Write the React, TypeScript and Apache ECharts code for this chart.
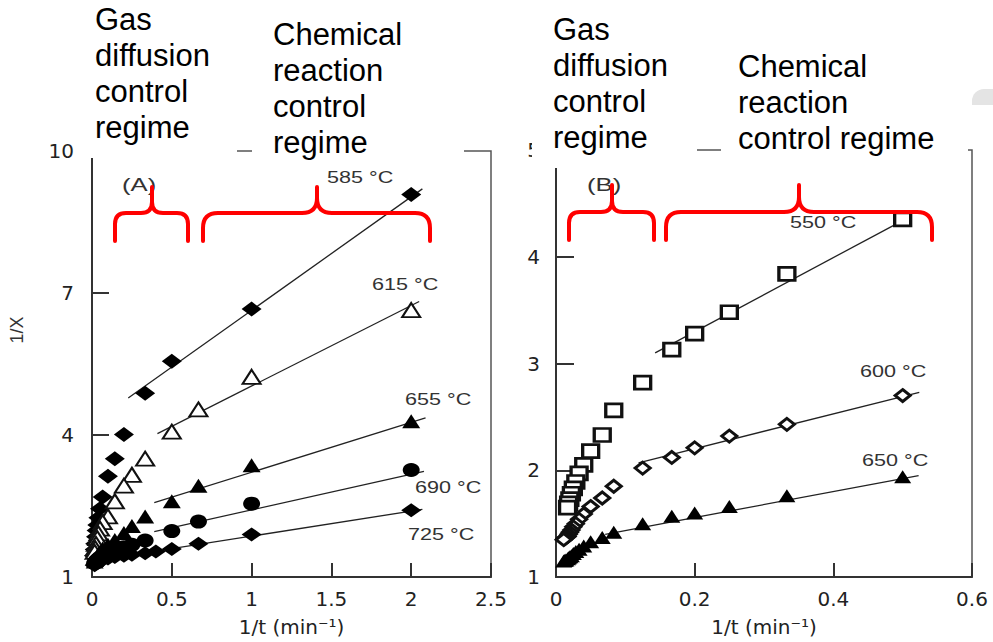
import React, { useEffect, useRef } from 'react';
import * as echarts from 'echarts';

// ---------- Panel A data (1/t in min^-1, 1/X) ----------
const xA585 = [2, 1, 0.5, 0.333, 0.2, 0.143, 0.1, 0.0667, 0.05, 0.04, 0.0333, 0.0286, 0.025, 0.02, 0.0167, 0.0125];
const yA585 = [9.08, 6.66, 5.56, 4.88, 4.01, 3.5, 3.13, 2.69, 2.44, 2.25, 2.1, 1.98, 1.85, 1.7, 1.58, 1.45];
const xA615 = [2, 1, 0.667, 0.5, 0.333, 0.25, 0.2, 0.143, 0.1, 0.0667, 0.05, 0.04, 0.0333, 0.025, 0.02, 0.0167];
const yA615 = [6.64, 5.23, 4.54, 4.07, 3.5, 3.16, 2.93, 2.6, 2.28, 2.16, 2.02, 1.92, 1.82, 1.7, 1.61, 1.53];
const xA655 = [2, 1, 0.667, 0.5, 0.333, 0.25, 0.2, 0.143, 0.1, 0.0667, 0.05, 0.04, 0.0333, 0.025, 0.02, 0.0167];
const yA655 = [4.29, 3.36, 2.93, 2.6, 2.28, 2.08, 1.93, 1.78, 1.68, 1.6, 1.53, 1.48, 1.44, 1.39, 1.36, 1.33];
const xA690 = [2, 1, 0.667, 0.5, 0.333, 0.25, 0.2, 0.143, 0.1, 0.0667, 0.05, 0.04, 0.0333, 0.025, 0.02, 0.0167];
const yA690 = [3.26, 2.55, 2.17, 1.97, 1.77, 1.68, 1.63, 1.56, 1.5, 1.45, 1.41, 1.38, 1.36, 1.33, 1.31, 1.29];
const xA725 = [2, 1, 0.667, 0.5, 0.4, 0.333, 0.25, 0.2, 0.143, 0.1, 0.0667, 0.05, 0.0333, 0.025, 0.02, 0.0167];
const yA725 = [2.41, 1.9, 1.7, 1.59, 1.54, 1.5, 1.47, 1.45, 1.42, 1.39, 1.36, 1.34, 1.31, 1.29, 1.27, 1.25];

// fitted lines, panel A: [x0, y0, x1, y1]
const fitA585 = [0.227, 4.78, 2.07, 9.2];
const fitA615 = [0.41, 4.03, 2.05, 6.82];
const fitA655 = [0.39, 2.57, 2.09, 4.36];
const fitA690 = [0.39, 1.96, 2.08, 3.23];
const fitA725 = [0.39, 1.54, 2.07, 2.43];

// ---------- Panel B data ----------
const xB550 = [0.5, 0.333, 0.25, 0.2, 0.167, 0.125, 0.0833, 0.0667, 0.05, 0.04, 0.0333, 0.0286, 0.025, 0.0222, 0.02, 0.0182, 0.0167];
const yB550 = [4.35, 3.84, 3.48, 3.28, 3.13, 2.82, 2.56, 2.33, 2.18, 2.05, 1.97, 1.89, 1.83, 1.78, 1.73, 1.69, 1.65];
const xB600 = [0.5, 0.333, 0.25, 0.2, 0.167, 0.125, 0.0833, 0.0667, 0.05, 0.04, 0.0333, 0.0286, 0.025, 0.0222, 0.02, 0.0182, 0.0167, 0.0143, 0.0125, 0.0111];
const yB600 = [2.7, 2.43, 2.32, 2.21, 2.12, 2.02, 1.85, 1.74, 1.66, 1.59, 1.54, 1.5, 1.47, 1.44, 1.42, 1.4, 1.38, 1.37, 1.36, 1.35];
const xB650 = [0.5, 0.333, 0.25, 0.2, 0.167, 0.125, 0.0833, 0.0667, 0.05, 0.04, 0.0333, 0.0286, 0.025, 0.0222, 0.02, 0.0182, 0.0167, 0.0143, 0.0125, 0.0111];
const yB650 = [1.94, 1.76, 1.66, 1.6, 1.57, 1.5, 1.42, 1.37, 1.33, 1.29, 1.26, 1.24, 1.22, 1.2, 1.19, 1.18, 1.17, 1.16, 1.155, 1.15];

const fitB550 = [0.143, 3.1, 0.506, 4.36];
const fitB600 = [0.119, 2.07, 0.524, 2.73];
const fitB650 = [0.071, 1.4, 0.523, 1.95];

// tick settings
const xTicksA = { min: 0, max: 2.5, interval: 0.5 };
const yTicksA = { min: 1, max: 10, interval: 3 };
const xTicksB = { min: 0, max: 0.6, interval: 0.2 };
const yTicksB = { min: 1, max: 5, interval: 1 };

const xName = '1/t (min⁻¹)';
const yNameA = '1/X';

// ---------- brace shapes ----------
function bracePath(x0: number, x1: number, xc: number, yb: number, yh: number, yp: number, r: number) {
  return (
    `M${x0},${yb} L${x0},${yh + r} Q${x0},${yh} ${x0 + r},${yh} L${xc - r},${yh} Q${xc},${yh} ${xc},${yh - r} L${xc},${yp} ` +
    `M${xc},${yp} L${xc},${yh - r} Q${xc},${yh} ${xc + r},${yh} L${x1 - r},${yh} Q${x1},${yh} ${x1},${yh + r} L${x1},${yb}`
  );
}
echarts.graphic.registerShape('braceA1', echarts.graphic.extendPath(bracePath(115, 188, 152, 241, 213, 187, 11), {}));
echarts.graphic.registerShape('braceA2', echarts.graphic.extendPath(bracePath(203, 430, 317, 241, 213, 187, 15), {}));
echarts.graphic.registerShape('braceB1', echarts.graphic.extendPath(bracePath(569, 654, 612, 240, 212, 185, 11), {}));
echarts.graphic.registerShape('braceB2', echarts.graphic.extendPath(bracePath(666, 932, 799, 240, 212, 185, 15), {}));

const zip = (xs: number[], ys: number[]) => xs.map((x, i) => [x, ys[i]]);
const fit = (f: number[]) => [[f[0], f[1]], [f[2], f[3]]];

const AX = '#333';
const LBL = '#222';
const TICK_FONT = 'DejaVu Sans';

function makeX(grid: number, t: { min: number; max: number; interval: number }, tickLen: number) {
  return {
    gridIndex: grid,
    type: 'value',
    ...t,
    axisLine: { show: true, lineStyle: { color: AX, width: 2 } },
    axisTick: { show: true, inside: true, length: tickLen, lineStyle: { color: AX, width: 2 } },
    splitLine: { show: false },
    axisLabel: { fontFamily: TICK_FONT, fontSize: 20, color: LBL, margin: 12 },
    name: xName,
    nameLocation: 'middle',
    nameGap: 40,
    nameTextStyle: { fontFamily: TICK_FONT, fontSize: 20, color: LBL },
  };
}
function makeY(grid: number, t: { min: number; max: number; interval: number }, tickLen: number, margin: number) {
  return {
    gridIndex: grid,
    type: 'value',
    ...t,
    axisLine: { show: true, lineStyle: { color: AX, width: 2 } },
    axisTick: { show: true, inside: true, length: tickLen, lineStyle: { color: AX, width: 2 } },
    splitLine: { show: false },
    axisLabel: { fontFamily: TICK_FONT, fontSize: 20, color: LBL, margin },
  };
}

function scatter(name: string, xi: number, data: number[][], symbol: string, size: number[], open: boolean, bw = 1.5) {
  return {
    name,
    type: 'scatter',
    xAxisIndex: xi,
    yAxisIndex: xi,
    data,
    symbol,
    symbolSize: size,
    z: 3,
    itemStyle: open
      ? { color: '#fff', borderColor: '#111', borderWidth: bw, opacity: 1 }
      : { color: '#000', borderWidth: 0, opacity: 1 },
  };
}
function fitLine(xi: number, f: number[]) {
  return {
    type: 'line',
    xAxisIndex: xi,
    yAxisIndex: xi,
    data: fit(f),
    symbol: 'none',
    silent: true,
    z: 2,
    lineStyle: { color: '#222', width: 1.3 },
  };
}

const SANS = 'Liberation Sans, Arial, sans-serif';

function label(text: string, x: number, y: number, size = 16) {
  return {
    type: 'text',
    x,
    y,
    scaleX: 1.35,
    z: 20,
    style: { text, fontFamily: SANS, fontSize: size, fill: '#333', align: 'left', verticalAlign: 'middle' },
  };
}
function whiteBox(x: number, y: number, w: number, h: number) {
  return { type: 'rect', z: 50, shape: { x, y, width: w, height: h }, style: { fill: '#fff' } };
}
function note(text: string, x: number, y: number) {
  return {
    type: 'text',
    x,
    y,
    z: 51,
    style: { text, fontFamily: SANS, fontSize: 31, lineHeight: 36, fill: '#000', align: 'left', verticalAlign: 'top' },
  };
}
function brace(type: string) {
  return { type, x: 0, y: 0, z: 60, style: { stroke: '#ff0000', lineWidth: 4, fill: 'none', lineCap: 'round' } };
}

export default function App() {
  const ref = useRef<HTMLDivElement>(null);
  useEffect(() => {
    if (!ref.current) return;
    const chart = echarts.init(ref.current, undefined, { renderer: 'svg' });
    const option: any = {
      animation: false,
      backgroundColor: '#fff',
      textStyle: { fontFamily: SANS },
      grid: [
        { left: 92, top: 151, width: 399, height: 430, show: true, borderColor: '#555', borderWidth: 1.5, backgroundColor: 'transparent' },
        { left: 556, top: 150, width: 416, height: 430, show: true, borderColor: '#555', borderWidth: 1.5, backgroundColor: 'transparent' },
      ],
      xAxis: [makeX(0, xTicksA, 14), makeX(1, xTicksB, 14)],
      yAxis: [makeY(0, yTicksA, 17, 18), makeY(1, yTicksB, 18, 16)],
      series: [
        fitLine(0, fitA585),
        fitLine(0, fitA615),
        fitLine(0, fitA655),
        fitLine(0, fitA690),
        fitLine(0, fitA725),
        scatter('585 °C', 0, zip(xA585, yA585), 'diamond', [20, 15], false),
        scatter('615 °C', 0, zip(xA615, yA615), 'triangle', [18, 14], true, 2),
        scatter('655 °C', 0, zip(xA655, yA655), 'triangle', [18, 14], false),
        scatter('690 °C', 0, zip(xA690, yA690), 'circle', [17, 14], false),
        scatter('725 °C', 0, zip(xA725, yA725), 'diamond', [20, 14], false),
        fitLine(1, fitB550),
        fitLine(1, fitB600),
        fitLine(1, fitB650),
        scatter('550 °C', 1, zip(xB550, yB550), 'rect', [16, 13], true, 3),
        scatter('600 °C', 1, zip(xB600, yB600), 'diamond', [15, 12], true, 3),
        scatter('650 °C', 1, zip(xB650, yB650), 'triangle', [17, 13], false),
      ],
      graphic: [
        whiteBox(80, 0, 157, 158),
        whiteBox(252, 0, 212, 161),
        whiteBox(532, 0, 165, 168),
        whiteBox(721, 0, 247, 158),
        note('Gas\ndiffusion\ncontrol\nregime', 95, 1),
        note('Chemical\nreaction\ncontrol\nregime', 273, 16),
        note('Gas\ndiffusion\ncontrol\nregime', 553, 11),
        note('Chemical\nreaction\ncontrol regime', 738, 48),
        brace('braceA1'),
        brace('braceA2'),
        brace('braceB1'),
        brace('braceB2'),
        label('(A)', 122, 185, 19),
        label('(B)', 587, 185, 19),
        label('585 °C', 327, 178),
        label('615 °C', 372, 285),
        label('655 °C', 405, 400),
        label('690 °C', 415, 488),
        label('725 °C', 408, 535),
        label('550 °C', 790, 223),
        label('600 °C', 860, 372),
        label('650 °C', 862, 461),
        {
          type: 'text',
          x: 17,
          y: 330,
          rotation: Math.PI / 2,
          z: 20,
          style: { text: yNameA, fontFamily: SANS, fontSize: 18, fill: '#333', align: 'center', verticalAlign: 'middle' },
        },
        {
          type: 'rect',
          z: 5,
          shape: { x: 972, y: 89, width: 25, height: 16, r: [12, 0, 0, 0] },
          style: { fill: '#e4e4e4' },
        },
      ],
    };
    chart.setOption(option);
    return () => chart.dispose();
  }, []);
  return (
    <div
      ref={ref}
      style={{ position: 'fixed', left: 0, top: 0, width: 993, height: 642, background: '#fff' }}
    />
  );
}
